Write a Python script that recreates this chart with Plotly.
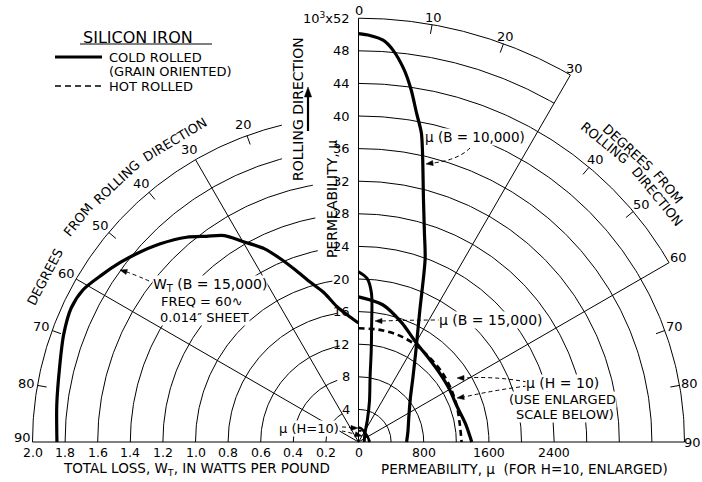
import numpy as np
import plotly.graph_objects as go

# ---------------- data (angles in degrees from the rolling direction) ----------------
wt_angle = [0, 4, 9, 13, 17, 20, 23, 26, 30, 33, 36.5, 40, 45, 50, 53, 57, 61, 65, 70, 76, 83, 90]
wt_cold = [0.73, 0.77, 0.84, 0.94, 1.03, 1.12, 1.22, 1.32, 1.42, 1.51, 1.57, 1.64, 1.72, 1.79,
           1.83, 1.88, 1.93, 1.945, 1.925, 1.89, 1.865, 1.85]          # W_T, watts per pound, B=15,000

mu10k_angle = [0, 1.6, 3.5, 5, 7, 8.5, 10, 11.5, 12.5, 13.5, 15, 17.5, 20, 25, 32, 40, 50, 65, 78, 90]
mu10k_cold = [50.1, 49.9, 49.4, 48.3, 46.0, 43.7, 41.0, 38.7, 36.3, 33.9, 30.8, 26.9, 23.9, 17.8,
              13.3, 10.4, 8.3, 6.8, 6.2, 5.9]                          # permeability x10^3, B=10,000

mu15k_angle = [0, 3, 5, 6.5, 8, 10, 15, 22, 36, 55, 90]
mu15k_cold = [20.9, 20.1, 18.3, 14.2, 11.2, 8.2, 5.2, 2.9, 1.35, 0.9, 0.7]  # permeability x10^3, B=15,000

muh10_angle = [0, 10, 20, 30, 40, 50, 60, 70, 80, 90]
muh10_cold = [1780, 1710, 1555, 1410, 1340, 1305, 1290, 1285, 1330, 1390]   # permeability at H=10
muh10_hot = [1395, 1400, 1400, 1385, 1355, 1335, 1310, 1285, 1262, 1265]

grid_levels = [4, 8, 12, 16, 20, 24, 28, 32, 36, 40]
vert_ticks = [4, 8, 12, 16, 20, 24, 28, 32, 36, 40, 44, 48]
loss_ticks = [2.0, 1.8, 1.6, 1.4, 1.2, 1.0, 0.8, 0.6, 0.4, 0.2]
enl_ticks = [0, 800, 1600, 2400]
left_angle_labels = [20, 30, 40, 50, 60, 70, 80, 90]
right_angle_labels = [0, 10, 20, 30, 40, 50, 60, 70, 80, 90]

# ---------------- scales / layout constants ----------------
W, H = 702, 482
PX = 8.15            # pixels per radial unit (10^3 permeability)
CX, CY = 358.5, 442  # pole position in pixels
W_TO_R = 20.0        # watts per pound -> radial unit
MU_MAIN = 1 / 1000   # permeability -> radial unit (main scale)
MU_ENL = 1 / 100     # permeability -> radial unit (enlarged H=10 scale)
INK = "#000000"
FONT = "DejaVu Sans"


def pol(theta, r, side=1):
    t = np.radians(np.asarray(theta, dtype=float))
    r = np.asarray(r, dtype=float)
    return side * r * np.sin(t), r * np.cos(t)


def P(px, py):
    return (px - CX) / PX, (CY - py) / PX


gx, gy = [], []


def seg(xs, ys):
    gx.extend(list(xs) + [None])
    gy.extend(list(ys) + [None])


def arc(r, t0, t1, side=1):
    th = np.linspace(t0, t1, 160)
    x, y = pol(th, np.full_like(th, r), side)
    seg(x, y)


# right side arcs
for r in grid_levels:
    arc(r, 0, 90)
arc(44, 0, 60)
arc(48, 0, 30)
arc(52, 0, 30)
# left side arcs stop short of the vertical scale labels
left_gap = [2.0, 2.6, 2.3, 2.6, 3.2, 5.0, 5.3, 5.6, 9.4, 9.4]
for r, g in zip(grid_levels, left_gap):
    arc(r, 90, np.degrees(np.arcsin(g / r)), side=-1)
# radial lines
for th, rr, sd in [(30, 40, -1), (60, 40, -1), (30, 52, 1), (60, 44, 1)]:
    x, y = pol([th, th], [0, rr], sd)
    seg(x, y)
seg([0, 0], [0, 52])
seg([-40, 40], [0, 0])
# angle ticks (inward)
for th, rr, sd in [(20, 40, -1), (40, 40, -1), (50, 40, -1), (70, 40, -1), (80, 40, -1),
                   (10, 52, 1), (20, 52, 1), (40, 44, 1), (50, 44, 1), (70, 40, 1), (80, 40, 1)]:
    x, y = pol([th, th], [rr, rr - 1.15], sd)
    seg(x, y)

fig = go.Figure()
fig.add_trace(go.Scatter(x=gx, y=gy, mode="lines", line=dict(color=INK, width=1),
                         hoverinfo="skip", showlegend=False))


def curve(theta, r, side=1, dash="solid", width=3.2):
    x, y = pol(theta, r, side)
    fig.add_trace(go.Scatter(x=x, y=y, mode="lines",
                             line=dict(color=INK, width=width, dash=dash, shape="spline", smoothing=0.8),
                             hoverinfo="skip", showlegend=False))


curve(wt_angle, np.array(wt_cold) * W_TO_R, side=-1)
curve(mu10k_angle, mu10k_cold)
curve(mu15k_angle, mu15k_cold, width=3)
curve(muh10_angle, np.array(muh10_cold) * MU_ENL)
curve(muh10_angle, np.array(muh10_hot) * MU_ENL, dash="6px,4px", width=2.6)
curve(muh10_angle, np.array(muh10_cold) * MU_MAIN, width=2.5)
curve(muh10_angle, np.array(muh10_hot) * MU_MAIN, dash="3px,2px", width=2)

ann = []
shapes = []


def _ann(x, y, s, size, angle, xanchor, bg):
    d = dict(x=x, y=y, xref="x", yref="y", text=s, showarrow=False, textangle=angle,
             xanchor=xanchor, yanchor="middle", font=dict(family=FONT, size=size, color=INK))
    if bg:
        d.update(bgcolor=bg, borderpad=0)
    ann.append(d)


def text(px, py, s, size=13, angle=0, xanchor="center", bg=None):
    x, y = P(px, py)
    _ann(x, y, s, size, angle, xanchor, bg)


def text_xy(x, y, s, size=13, angle=0, bg=None):
    _ann(float(x), float(y), s, size, angle, "center", bg)


def head(tip, frm, length=7.0, half=2.6):
    tx, ty = tip
    fx, fy = frm
    d = np.array([tx - fx, ty - fy], dtype=float)
    d /= np.hypot(*d)
    n = np.array([-d[1], d[0]])
    b = np.array([tx, ty]) - d * length
    pts = [(tx, ty), tuple(b + n * half), tuple(b - n * half)]
    q = [P(*p) for p in pts]
    shapes.append(dict(type="path", xref="x", yref="y",
                       path=f"M {q[0][0]},{q[0][1]} L {q[1][0]},{q[1][1]} L {q[2][0]},{q[2][1]} Z",
                       fillcolor=INK, line=dict(color=INK, width=0.5)))


def leader(p0, pc, p1, tip):
    (x0, y0), (cx, cy), (x1, y1) = P(*p0), P(*pc), P(*p1)
    shapes.append(dict(type="path", xref="x", yref="y",
                       path=f"M {x0},{y0} Q {cx},{cy} {x1},{y1}",
                       line=dict(color=INK, width=1, dash="4px,3px")))
    head(tip, p1)


# vertical scale labels
xl, _ = P(352, 0)
for v in vert_ticks:
    _ann(xl, v, str(v), 13, 0, "right", None)
_ann(xl, 52, "10<sup>3</sup>x52", 13, 0, "right", None)

# bottom scale labels
yb = P(0, 452.5)[1]
for w in loss_ticks:
    text_xy(-w * W_TO_R, yb, f"{w:.1f}", size=12.5)
text_xy(0, yb, "0", size=12.5)
for m in enl_ticks[1:]:
    text_xy(m * MU_ENL, yb, str(m), size=12.5)

text(196, 469, "TOTAL LOSS, W<sub>T</sub>, IN WATTS PER POUND", size=13.5)
text(524, 469, "PERMEABILITY, μ  (FOR H=10, ENLARGED)", size=13.5)

# angle labels
for a in left_angle_labels:
    rr = 41.2 if a == 90 else 41.4
    th = 89.2 if a == 90 else a
    x, y = pol(th, rr, -1)
    text_xy(x, y, str(a))
for a in right_angle_labels:
    rr = 52.9 if a <= 30 else (45.3 if a <= 60 else (41.0 if a == 90 else 41.3))
    x, y = pol(a, rr, 1)
    text_xy(x, y, str(a))

# curved "degrees from rolling direction" captions
for word, rr, th in [("DEGREES", 43.5, 62.3), ("FROM", 43.9, 51.5), ("ROLLING", 43.6, 43.0),
                     ("DIRECTION", 43.4, 31.2)]:
    x, y = pol(th, rr, -1)
    text_xy(x, y, word, size=13, angle=-th)
for word, rr, th in [("DEGREES", 49.0, 42.4), ("FROM", 49.2, 50.6), ("ROLLING", 47.5, 39.4),
                     ("DIRECTION", 47.4, 50.6)]:
    x, y = pol(th, rr, 1)
    text_xy(x, y, word, size=13, angle=th)

# rolling direction & permeability axis titles
text(298, 109, "ROLLING DIRECTION", size=14, angle=-90)
text(332, 199, "PERMEABILITY, μ", size=14, angle=-90)
x0, y0 = P(308, 131)
x1, y1 = P(308, 95)
shapes.append(dict(type="line", xref="x", yref="y", x0=x0, y0=y0, x1=x1, y1=y1,
                   line=dict(color=INK, width=2.2)))
head((308, 87), (308, 131), length=10, half=3.6)

# curve labels
text(210, 285, "W<sub>T</sub> (B = 15,000)", size=14, bg="white")
text(202, 301, "FREQ = 60∿", size=13, bg="white")
text(204, 317, "0.014″ SHEET", size=13, bg="white")
leader((156, 284), (138, 276), (127, 272), (120, 270))

text(475, 137, "μ (B = 10,000)", size=13.5, bg="white")
leader((470, 148), (458, 160), (433, 163), (426, 164))

text(491, 320, "μ (B = 15,000)", size=14, bg="white")
leader((442, 320), (410, 320), (382, 321), (375, 321))

text(562, 383, "μ (H = 10)", size=14, bg="white")
text(562, 399, "(USE ENLARGED", size=13, bg="white")
text(565, 414, "SCALE BELOW)", size=13, bg="white")
leader((527, 382), (495, 376), (464, 378), (457, 378))
leader((527, 386), (495, 390), (464, 397), (457, 398))

text(309, 428, "μ (H=10)", size=13, bg="white")
leader((342, 427), (347, 427), (352, 428), (358, 428))
leader((342, 431), (348, 432), (356, 434.5), (362, 436))

# legend block
text(138, 37, "SILICON IRON", size=16)
text(107, 57, "COLD ROLLED", size=13, xanchor="left")
text(107, 71, "(GRAIN ORIENTED)", size=13, xanchor="left")
text(107, 86, "HOT ROLLED", size=13, xanchor="left")
for (p0, p1, wdt, dsh) in [((80, 44), (212, 44), 1, "solid"), ((55, 57), (102, 57), 3, "solid"),
                           ((55, 86), (102, 86), 1.6, "6px,4px")]:
    a0, b0 = P(*p0)
    a1, b1 = P(*p1)
    shapes.append(dict(type="line", xref="x", yref="y", x0=a0, y0=b0, x1=a1, y1=b1,
                       line=dict(color=INK, width=wdt, dash=dsh)))

x_lo, y_hi = P(0, 0)
x_hi, y_lo = P(W, H)
fig.update_layout(
    width=W, height=H, autosize=False,
    margin=dict(l=0, r=0, t=0, b=0),
    paper_bgcolor="white", plot_bgcolor="white",
    xaxis=dict(range=[x_lo, x_hi], visible=False, fixedrange=True),
    yaxis=dict(range=[y_lo, y_hi], visible=False, fixedrange=True),
    annotations=ann, shapes=shapes, showlegend=False,
)
fig.write_html("out.html", config={"displayModeBar": False},
               post_script="document.body.style.margin='0px';")
